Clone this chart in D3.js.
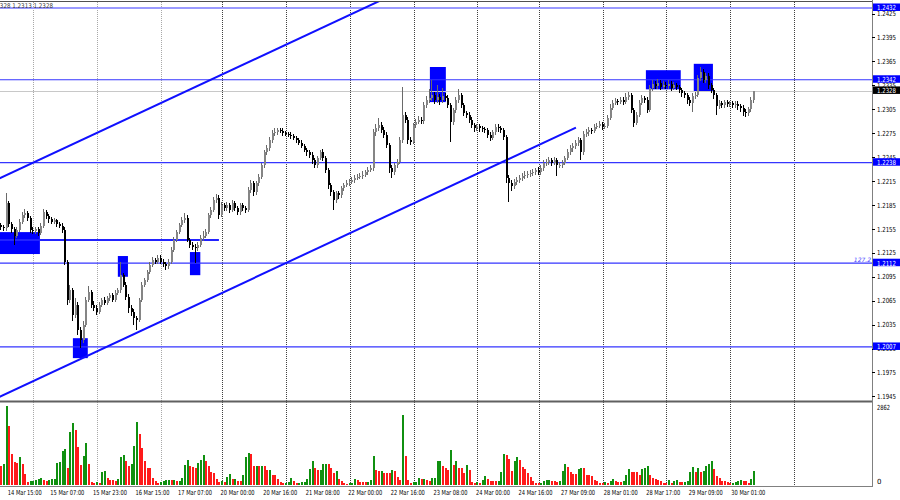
<!DOCTYPE html>
<html>
<head>
<meta charset="utf-8">
<script src="https://cdn.jsdelivr.net/npm/d3@7"></script>
<style>
  body { margin: 0; background: #fff; }
  svg { display: block; }
  text { font-family: "DejaVu Sans", "Liberation Sans", sans-serif; }
</style>
</head>
<body>
<svg id="chart" width="900" height="500"></svg>
<script>
// EURUSD H1, 14 Mar - 30 Mar 2023. prices are stored x10000
const sessions = [
  ["2023-03-14 12:00", "2023-03-17 22:00"],
  ["2023-03-20 00:00", "2023-03-24 22:00"],
  ["2023-03-27 00:00", "2023-03-30 09:00"]
];

const opens = [12160,12157,12156,12187,12161,12155,12146,12154,12164,12172,
12175,12169,12154,12152,12155,12150,12159,12176,12171,12167,
12164,12166,12161,12159,12154,12114,12066,12078,12047,12060,
12028,12016,12035,12066,12076,12060,12056,12051,12060,12066,
12062,12068,12072,12066,12075,12078,12097,12085,12070,12056,
12051,12043,12041,12066,12085,12091,12101,12110,12116,12114,
12119,12114,12111,12108,12114,12129,12141,12151,12160,12166,
12169,12141,12135,12132,12131,12135,12144,12146,12151,12172,
12179,12191,12194,12172,12185,12181,12185,12179,12187,12181,
12176,12185,12181,12179,12204,12212,12201,12212,12220,12235,
12251,12256,12266,12275,12276,12279,12278,12275,12274,12273,
12271,12269,12266,12263,12259,12254,12251,12248,12241,12235,
12244,12251,12244,12229,12210,12201,12191,12200,12197,12206,
12210,12212,12214,12216,12219,12220,12221,12223,12226,12229,
12231,12276,12281,12285,12279,12273,12260,12231,12226,12235,
12239,12266,12298,12292,12266,12264,12285,12289,12292,12290,
12310,12317,12319,12323,12317,12320,12317,12322,12319,12310,
12289,12304,12317,12323,12310,12300,12298,12292,12285,12281,
12284,12281,12280,12279,12273,12269,12276,12283,12281,12279,
12270,12219,12212,12209,12214,12216,12219,12221,12223,12224,
12225,12226,12229,12226,12231,12238,12239,12241,12238,12241,
12235,12235,12238,12244,12251,12256,12259,12263,12266,12251,
12274,12276,12279,12278,12283,12284,12286,12283,12284,12294,
12307,12313,12315,12314,12317,12314,12320,12323,12304,12288,
12298,12313,12319,12317,12304,12332,12337,12334,12338,12333,
12335,12334,12337,12332,12335,12333,12329,12325,12323,12317,
12313,12322,12323,12344,12352,12342,12347,12335,12329,12323,
12309,12313,12310,12314,12312,12313,12310,12312,12309,12307,
12302,12300,12305,12317];

const highs = [12163,12160,12200,12190,12164,12158,12157,12168,12176,12180,
12178,12171,12157,12158,12158,12162,12180,12179,12174,12170,
12169,12168,12164,12162,12157,12116,12085,12081,12068,12063,
12032,12040,12070,12083,12079,12064,12059,12063,12069,12070,
12071,12075,12075,12078,12081,12114,12100,12088,12073,12059,
12054,12046,12069,12088,12094,12104,12113,12120,12119,12122,
12122,12117,12114,12117,12132,12145,12154,12163,12170,12175,
12172,12144,12138,12136,12139,12147,12152,12155,12175,12183,
12195,12199,12197,12189,12188,12189,12188,12191,12190,12184,
12188,12188,12184,12207,12216,12215,12215,12224,12238,12254,
12260,12270,12279,12281,12282,12282,12281,12278,12277,12276,
12274,12272,12269,12266,12262,12257,12254,12251,12244,12247,
12254,12255,12247,12232,12213,12204,12203,12203,12209,12213,
12216,12217,12220,12222,12224,12225,12227,12229,12233,12235,
12280,12286,12294,12289,12283,12276,12263,12235,12238,12243,
12270,12333,12302,12295,12270,12288,12293,12296,12295,12314,
12322,12330,12342,12327,12336,12324,12332,12326,12323,12313,
12307,12321,12330,12326,12313,12303,12301,12295,12288,12287,
12287,12284,12283,12282,12276,12279,12286,12286,12284,12282,
12273,12222,12216,12218,12220,12223,12225,12227,12228,12229,
12230,12232,12233,12235,12242,12243,12245,12244,12245,12244,
12239,12242,12247,12255,12260,12263,12267,12270,12269,12278,
12280,12283,12282,12286,12288,12290,12289,12288,12298,12311,
12317,12319,12318,12321,12320,12325,12327,12326,12307,12302,
12317,12323,12322,12320,12336,12342,12341,12343,12342,12340,
12339,12342,12340,12339,12338,12336,12332,12328,12326,12320,
12325,12327,12348,12358,12355,12351,12350,12338,12332,12326,
12317,12316,12317,12317,12316,12316,12315,12315,12312,12310,
12305,12308,12320,12328];

const lows = [12154,12152,12153,12158,12150,12135,12143,12151,12161,12169,
12165,12150,12148,12149,12146,12147,12156,12168,12163,12161,
12161,12158,12156,12150,12110,12060,12062,12040,12043,12022,
12006,12012,12032,12063,12056,12052,12047,12048,12057,12059,
12059,12065,12063,12063,12072,12075,12082,12066,12050,12046,
12035,12028,12038,12063,12082,12088,12098,12107,12111,12111,
12111,12107,12104,12105,12111,12126,12138,12148,12157,12163,
12138,12131,12128,12112,12127,12132,12140,12143,12148,12169,
12176,12188,12167,12170,12177,12178,12175,12176,12177,12172,
12173,12177,12175,12176,12200,12196,12198,12209,12217,12232,
12248,12253,12263,12272,12273,12275,12272,12271,12270,12268,
12266,12263,12260,12256,12251,12247,12244,12237,12231,12232,
12241,12240,12225,12205,12196,12179,12188,12193,12194,12203,
12207,12209,12211,12213,12216,12217,12218,12220,12223,12226,
12228,12272,12278,12275,12269,12256,12225,12219,12223,12231,
12236,12263,12288,12262,12260,12261,12282,12286,12286,12287,
12307,12313,12315,12312,12313,12310,12313,12315,12306,12264,
12285,12300,12313,12306,12296,12294,12288,12281,12277,12278,
12277,12276,12275,12269,12265,12266,12273,12277,12275,12266,
12213,12189,12203,12205,12210,12212,12215,12217,12219,12220,
12221,12222,12222,12222,12228,12234,12235,12234,12235,12221,
12231,12231,12235,12241,12248,12252,12255,12259,12241,12248,
12270,12272,12274,12275,12280,12281,12279,12280,12281,12291,
12304,12310,12310,12311,12310,12311,12317,12300,12283,12285,
12295,12310,12313,12300,12301,12328,12330,12331,12329,12330,
12330,12331,12328,12329,12329,12325,12321,12319,12312,12309,
12302,12318,12320,12340,12338,12338,12331,12325,12318,12298,
12305,12306,12306,12308,12308,12306,12306,12304,12302,12297,
12295,12297,12302,12313];

const closes = [12157,12156,12187,12161,12155,12146,12154,12164,12172,12175,
12169,12154,12152,12155,12150,12159,12176,12171,12167,12164,
12166,12161,12159,12154,12114,12066,12078,12047,12060,12028,
12016,12035,12066,12076,12060,12056,12051,12060,12066,12062,
12068,12072,12066,12075,12078,12097,12085,12070,12056,12051,
12043,12041,12066,12085,12091,12101,12110,12116,12114,12119,
12114,12111,12108,12114,12129,12141,12151,12160,12166,12169,
12141,12135,12132,12131,12135,12144,12146,12151,12172,12179,
12191,12194,12172,12185,12181,12185,12179,12187,12181,12176,
12185,12181,12179,12204,12212,12201,12212,12220,12235,12251,
12256,12266,12275,12276,12279,12278,12275,12274,12273,12271,
12269,12266,12263,12259,12254,12251,12248,12241,12235,12244,
12251,12244,12229,12210,12201,12191,12200,12197,12206,12210,
12212,12214,12216,12219,12220,12221,12223,12226,12229,12231,
12276,12281,12285,12279,12273,12260,12231,12226,12235,12239,
12266,12298,12292,12266,12264,12285,12289,12292,12290,12310,
12317,12319,12323,12317,12320,12317,12322,12319,12310,12289,
12304,12317,12323,12310,12300,12298,12292,12285,12281,12284,
12281,12280,12279,12273,12269,12276,12283,12281,12279,12270,
12219,12212,12209,12214,12216,12219,12221,12223,12224,12225,
12226,12229,12226,12231,12238,12239,12241,12238,12241,12235,
12235,12238,12244,12251,12256,12259,12263,12266,12251,12274,
12276,12279,12278,12283,12284,12286,12283,12284,12294,12307,
12313,12315,12314,12317,12314,12320,12323,12304,12288,12298,
12313,12319,12317,12304,12332,12337,12334,12338,12333,12335,
12334,12337,12332,12335,12333,12329,12325,12323,12317,12313,
12322,12323,12344,12352,12342,12347,12335,12329,12323,12309,
12313,12310,12314,12312,12313,12310,12312,12309,12307,12302,
12300,12305,12317,12328];

const volumes = [671,756,2862,2135,1135,817,810,1013,756,403,
122,130,146,183,220,244,183,146,183,207,
215,793,830,1220,1305,610,1928,2257,1976,1379,
732,1061,1525,756,122,61,122,85,464,512,
244,183,170,150,200,1000,1098,878,671,756,
1427,2294,1830,1342,854,610,600,244,146,61,
122,130,183,190,183,195,140,150,244,732,
915,671,634,610,793,915,1098,854,671,488,
451,207,122,146,122,281,403,220,235,159,
150,366,1013,1150,1120,680,700,690,700,690,
540,560,366,350,220,98,61,70,98,244,
134,85,90,95,100,207,586,878,600,540,
560,756,770,756,610,427,525,207,146,85,
45,60,85,207,183,122,115,110,122,183,
1037,549,500,520,451,440,430,549,512,305,
183,2525,1061,183,85,95,122,244,207,220,
183,146,244,260,854,870,671,610,549,1257,
732,854,610,600,427,708,549,122,61,122,
61,183,342,207,146,140,130,159,488,1135,
1098,939,525,854,1013,915,634,573,427,281,
146,85,61,85,146,183,190,146,134,122,
159,525,769,634,488,403,390,573,610,600,
366,350,329,183,146,85,61,98,61,146,
207,146,122,115,146,366,573,488,480,470,
366,573,610,671,366,244,230,183,146,85,
61,183,85,159,165,122,115,122,130,488,
634,488,610,464,512,671,769,878,573,329,
268,159,146,122,61,85,110,159,183,146,
140,85,220,525];

const timeLabels = ["13 Mar 23:00","14 Mar 15:00","15 Mar 07:00","15 Mar 23:00","16 Mar 15:00",
  "17 Mar 07:00","20 Mar 00:00","20 Mar 16:00","21 Mar 08:00","22 Mar 00:00","22 Mar 16:00",
  "23 Mar 08:00","24 Mar 00:00","24 Mar 16:00","27 Mar 09:00","28 Mar 01:00","28 Mar 17:00",
  "29 Mar 09:00","30 Mar 01:00"];
const priceTicks = [1.2425,1.2395,1.2365,1.2335,1.2305,1.2275,1.2245,1.2215,1.2185,1.2155,
  1.2125,1.2095,1.2065,1.2035,1.2005,1.1975,1.1945];
const levels = [1.2432, 1.2342, 1.2238, 1.2112, 1.2007];
const bidPrice = 1.2328;
const volumeMax = 2862;
const headerText = "1.2328 1.2313 1.2328";

// chart objects anchored in (bar index, price)
const channelLines = [[[-1, 1.2218], [150, 1.2453]], [[-1, 1.1944], [216, 1.2282]]];
const supportSegment = [[-1, 1.2141], [81.8, 1.2141]];
const zones = [[-1, 14.5, 1.2151, 1.21235], [43.8, 47.6, 1.2121, 1.2095], [70.9, 74.8, 1.2126, 1.2097],
  [26.9, 32.5, 1.2018, 1.1993], [161.1, 167.1, 1.2358, 1.2314], [242.3, 255.4, 1.2354, 1.2330],
  [260.3, 267.5, 1.2362, 1.2327]];
const fiboText = { price: 1.2112, label: "127.2" };

const parseT = d3.timeParse("%Y-%m-%d %H:%M");
const parseLabel = d3.timeParse("%d %b %H:%M %Y");

// hourly bar times for each session
let times = [];
sessions.forEach(s => {
  times = times.concat(d3.timeHour.range(parseT(s[0]), d3.timeHour.offset(parseT(s[1]), 1)));
});

function barIndex(t) {
  const k = times.findIndex(d => +d === +t);
  if (k >= 0) return k;
  if (t < times[0]) return (t - times[0]) / 36e5;
  return times.length - 1 + (t - times[times.length - 1]) / 36e5;
}

const bars = closes.map((c, i) => ({
  i: i, o: opens[i] / 1e4, h: highs[i] / 1e4, l: lows[i] / 1e4, c: c / 1e4, v: volumes[i]
}));

const plotRight = 872;
const x = d3.scaleLinear().domain([-0.5, 327.3]).range([0, plotRight]);
const y = d3.scaleLinear().domain([1.19405, 1.24395]).range([400, 2]);
const yv = d3.scaleLinear().domain([0, volumeMax]).range([485, 406]);

const bullColor = "#858585", bullWick = "#6a6a6a", bearColor = "#000";
const blue = "#0000ff";

const svg = d3.select("#chart");
const defs = svg.append("defs");
defs.append("clipPath").attr("id", "clipMain")
  .append("rect").attr("x", 0).attr("y", 2).attr("width", plotRight).attr("height", 398);
defs.append("clipPath").attr("id", "clipVol")
  .append("rect").attr("x", 0).attr("y", 403).attr("width", plotRight).attr("height", 83);

// day separators (dotted grid)
const days = d3.timeDay.range(parseT("2023-03-14 00:00"), parseT("2023-04-01 00:00"))
  .filter(d => d.getDay() !== 0 && d.getDay() !== 6);
const gridIdx = days.map(barIndex).filter(i => x(i) > 0 && x(i) < plotRight);
svg.append("g").selectAll("line").data(gridIdx).join("line")
  .attr("x1", i => Math.round(x(i)) + 0.5).attr("x2", i => Math.round(x(i)) + 0.5)
  .attr("y1", 2).attr("y2", 486)
  .attr("stroke", i => i < 83 ? "#a8a8a8" : "#404040")
  .attr("stroke-dasharray", "1,1");

const main = svg.append("g").attr("clip-path", "url(#clipMain)");

// zones
main.append("g").selectAll("rect").data(zones).join("rect")
  .attr("x", d => x(d[0])).attr("width", d => x(d[1]) - x(d[0]))
  .attr("y", d => y(d[2])).attr("height", d => y(d[3]) - y(d[2]))
  .attr("fill", blue);

// bid line
main.append("line").attr("x1", 0).attr("x2", plotRight)
  .attr("y1", Math.round(y(bidPrice)) + 0.5).attr("y2", Math.round(y(bidPrice)) + 0.5)
  .attr("stroke", "#c8c8c8");

// horizontal levels
main.append("g").selectAll("line").data(levels).join("line")
  .attr("x1", 0).attr("x2", plotRight)
  .attr("y1", d => y(d)).attr("y2", d => y(d))
  .attr("stroke", (d, k) => k === 0 ? "#9a9aff" : "#3535ff")
  .attr("stroke-width", (d, k) => k === 0 ? 2 : 1.2);

main.append("line")
  .attr("x1", x(supportSegment[0][0])).attr("y1", y(supportSegment[0][1]))
  .attr("x2", x(supportSegment[1][0])).attr("y2", y(supportSegment[1][1]))
  .attr("stroke", "#2222ff").attr("stroke-width", 2);

main.append("g").selectAll("line").data(channelLines).join("line")
  .attr("x1", d => x(d[0][0])).attr("y1", d => y(d[0][1]))
  .attr("x2", d => x(d[1][0])).attr("y2", d => y(d[1][1]))
  .attr("stroke", "#1010ff").attr("stroke-width", 2);

// candles
const cg = main.append("g").attr("shape-rendering", "crispEdges");
cg.selectAll("rect.wick").data(bars).join("rect").attr("class", "wick")
  .attr("x", d => Math.round(x(d.i)) - 1).attr("width", 1)
  .attr("y", d => Math.round(y(d.h)))
  .attr("height", d => Math.max(1, Math.round(y(d.l)) - Math.round(y(d.h))))
  .attr("fill", d => d.c >= d.o ? bullWick : bearColor);
cg.selectAll("rect.body").data(bars).join("rect").attr("class", "body")
  .attr("x", d => Math.round(x(d.i)) - 1).attr("width", 2)
  .attr("y", d => Math.round(y(Math.max(d.o, d.c))))
  .attr("height", d => Math.max(1, Math.round(y(Math.min(d.o, d.c))) - Math.round(y(Math.max(d.o, d.c)))))
  .attr("fill", d => d.c >= d.o ? bullColor : bearColor);

main.append("text").attr("x", plotRight - 1).attr("y", y(fiboText.price) - 1.5)
  .attr("text-anchor", "end").attr("font-size", 6).attr("fill", "#4a4aff")
  .attr("font-style", "italic").text(fiboText.label);

// volumes
svg.append("g").attr("clip-path", "url(#clipVol)").attr("shape-rendering", "crispEdges")
  .selectAll("rect").data(bars).join("rect")
  .attr("x", d => Math.round(x(d.i)) - 1).attr("width", 2)
  .attr("y", d => Math.round(yv(d.v))).attr("height", d => 485 - Math.round(yv(d.v)))
  .attr("fill", (d, i) => i > 0 && d.v > bars[i - 1].v ? "#109010" : "#ff1a1a");

// frames
svg.append("line").attr("x1", 0).attr("x2", plotRight).attr("y1", 1.5).attr("y2", 1.5).attr("stroke", "#505050");
svg.append("rect").attr("x", 0).attr("y", 400.5).attr("width", plotRight).attr("height", 2).attr("fill", "#606060");
svg.append("line").attr("x1", 0).attr("x2", plotRight + 1).attr("y1", 486.5).attr("y2", 486.5).attr("stroke", "#808080");
svg.append("line").attr("x1", plotRight + 0.5).attr("x2", plotRight + 0.5).attr("y1", 0).attr("y2", 487).attr("stroke", "#808080");

// header
svg.append("text").attr("x", 53).attr("y", 8).attr("text-anchor", "end")
  .attr("font-size", 6.5).attr("fill", "#333").attr("textLength", 62).attr("lengthAdjust", "spacingAndGlyphs")
  .text(headerText);

// price axis
const axisG = svg.append("g");
axisG.selectAll("line").data(priceTicks).join("line")
  .attr("x1", plotRight).attr("x2", plotRight + 3)
  .attr("y1", d => Math.round(y(d)) + 0.5).attr("y2", d => Math.round(y(d)) + 0.5)
  .attr("stroke", "#000");
axisG.selectAll("text").data(priceTicks).join("text")
  .attr("x", plotRight + 5).attr("y", d => y(d) + 2.6)
  .attr("font-size", 7).attr("textLength", 19).attr("lengthAdjust", "spacingAndGlyphs")
  .attr("fill", "#000").text(d => d3.format(".4f")(d));

// level tags
const tag = svg.append("g").selectAll("g").data(levels.map(v => ({ v: v, bg: blue }))
  .concat([{ v: bidPrice, bg: "#000" }])).join("g");
tag.append("rect").attr("x", plotRight + 1).attr("width", 27)
  .attr("y", d => y(d.v) - 4.5).attr("height", 7.5).attr("fill", d => d.bg);
tag.append("text").attr("x", plotRight + 5).attr("y", d => y(d.v) + 2.3)
  .attr("font-size", 7).attr("textLength", 19).attr("lengthAdjust", "spacingAndGlyphs")
  .attr("fill", "#fff").text(d => d3.format(".4f")(d.v));

// volume axis
svg.append("text").attr("x", plotRight + 5).attr("y", 410).attr("font-size", 7)
  .attr("textLength", 13).attr("lengthAdjust", "spacingAndGlyphs").text(volumeMax);
svg.append("text").attr("x", plotRight + 5).attr("y", 483.5).attr("font-size", 7).text("0");

// time axis
svg.append("g").selectAll("text").data(timeLabels).join("text")
  .attr("x", d => x(barIndex(parseLabel(d + " 2023"))) - 1.5).attr("y", 495)
  .attr("font-size", 7).attr("textLength", 34).attr("lengthAdjust", "spacingAndGlyphs")
  .attr("fill", "#000").text(d => d);
</script>
</body>
</html>
